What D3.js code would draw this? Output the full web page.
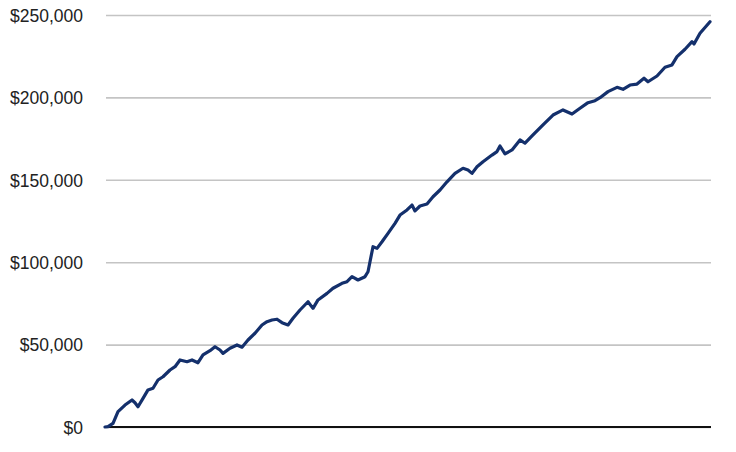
<!DOCTYPE html>
<html>
<head>
<meta charset="utf-8">
<script src="https://cdn.jsdelivr.net/npm/d3@7"></script>
<style>
  body { margin: 0; background: #fff; }
  .tick text { font-family: "Liberation Sans", Arial, sans-serif; font-size: 17.5px; fill: #222; }
</style>
</head>
<body>
<svg id="chart" width="736" height="452"></svg>
<script>
// equity curve (day index, balance)
var days = [0, 3, 8, 13, 20, 27, 30, 33, 38, 43, 48, 53, 58, 65, 70, 75, 82, 87, 93, 98, 105, 110, 115, 118,
  125, 132, 137, 143, 150, 157, 162, 167, 172, 177, 183, 188, 195, 203, 208, 213, 222, 228, 237, 242, 247, 253,
  260, 263, 265, 268, 272, 277, 283, 290, 295, 302, 307, 310, 315, 322, 328, 335, 342, 350, 358, 363, 367, 372,
  378, 387, 392, 395, 400, 407, 415, 420, 428, 438, 448, 458, 467, 475, 483, 490, 495, 503, 512, 518, 525, 532,
  539, 543, 552, 560, 567, 572, 580, 587, 589, 595, 605];
var balance = [0, 200, 2200, 9300, 13300, 16400, 14700, 12300, 17400, 22500, 23500, 28500, 30500, 34600, 36600,
  40700, 39600, 40700, 39000, 43700, 46300, 48700, 46700, 44700, 47800, 49800, 48400, 52800, 56900, 61900, 63900,
  64900, 65400, 63300, 61900, 66000, 71000, 76000, 72000, 77100, 81100, 84200, 87200, 88200, 91200, 89200, 91200,
  94200, 100300, 109400, 108400, 112400, 117500, 123600, 128600, 131700, 134700, 131100, 134100, 135300, 139700,
  143800, 148800, 153900, 157000, 155900, 153900, 157900, 161000, 165000, 167100, 170500, 165700, 168100, 174200,
  172200, 177200, 183300, 189300, 192400, 189900, 193400, 196800, 198000, 199800, 203500, 206100, 204900, 207500,
  208100, 211600, 209500, 213000, 218300, 219700, 224700, 229200, 233800, 232400, 238900, 245900];
var yTicks = [0, 50000, 100000, 150000, 200000, 250000];

var svg = d3.select("#chart");
var plot_left = 106, plot_right = 711, plot_top = 15, plot_bottom = 427;

var x = d3.scaleLinear().domain([0, 606]).range([plot_left - 1, plot_right]);
var y = d3.scaleLinear().domain([0, 250000]).range([plot_bottom, plot_top]);

// gridlines + labels
var yAxis = svg.append("g")
  .attr("transform", "translate(" + plot_left + ",0)")
  .call(d3.axisLeft(y).tickValues(yTicks).tickSize(-(plot_right - plot_left)).tickPadding(23)
    .tickFormat(function (d) { return "$" + d3.format(",")(d); }));
yAxis.select(".domain").remove();
yAxis.selectAll(".tick line").attr("stroke", "#c4c4c4").attr("stroke-width", 1.6);
yAxis.selectAll(".tick text").attr("dy", "0.36em");

// baseline
svg.append("line")
  .attr("x1", plot_left + 2).attr("x2", plot_right)
  .attr("y1", y(0)).attr("y2", y(0))
  .attr("stroke", "#111").attr("stroke-width", 1.8);

var pts = days.map(function (d, i) { return [d, balance[i]]; });
var line = d3.line().x(function (d) { return x(d[0]); }).y(function (d) { return y(d[1]); });

svg.append("path")
  .datum(pts)
  .attr("d", line)
  .attr("fill", "none")
  .attr("stroke", "#14306c")
  .attr("stroke-width", 3.2)
  .attr("stroke-linejoin", "round")
  .attr("stroke-linecap", "round");
</script>
</body>
</html>
